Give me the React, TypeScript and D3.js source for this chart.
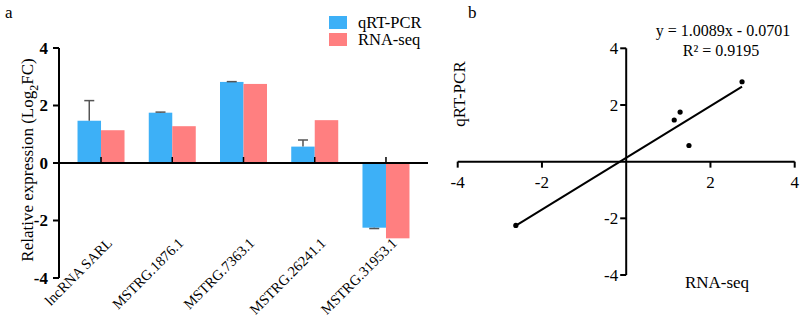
import React from "react";
import * as d3 from "d3";

const categories = ["lncRNA SARL", "MSTRG.1876.1", "MSTRG.7363.1", "MSTRG.26241.1", "MSTRG.31953.1"];
const seriesNames = ["qRT-PCR", "RNA-seq"];
const qrtValues = [1.47, 1.75, 2.82, 0.57, -2.25];
const qrtErrors = [0.7, 0.02, 0.01, 0.23, 0.03];
const rnaValues = [1.14, 1.28, 2.75, 1.49, -2.62];
const yTicksA = [-4, -2, 0, 2, 4];
const xTicksB = [-4, -2, 2, 4];
const yTicksB = [-4, -2, 2, 4];
const colors = ["#3DB0F7", "#FF7F80"];
const eqText = "y = 1.0089x - 0.0701";
const r2Text = "R² = 0.9195";

const FONT = "'Liberation Serif', 'Times New Roman', Times, serif";

export default function App() {
  // Panel a
  const yA = d3.scaleLinear().domain([-4, 4]).range([278, 48]);
  const xA = d3.scaleBand<string>().domain(categories).range([65.4, 421.6]).padding(0);
  const inner = d3.scaleBand<string>().domain(seriesNames).range([-23.5, 23.5]);
  const center = (c: string) => (xA(c) as number) + xA.bandwidth() / 2;
  const axisAX = 59;
  const zeroA = yA(0);

  // Panel b
  const xB = d3.scaleLinear().domain([-4, 4]).range([457.7, 794.7]);
  const yB = d3.scaleLinear().domain([-4, 4]).range([275, 48.3]);
  const pts = rnaValues.map((x, i) => ({ x, y: qrtValues[i] }));
  const mx = d3.mean(pts, (p) => p.x) as number;
  const my = d3.mean(pts, (p) => p.y) as number;
  const sxy = d3.sum(pts, (p) => (p.x - mx) * (p.y - my));
  const sxx = d3.sum(pts, (p) => (p.x - mx) ** 2);
  const slope = sxy / sxx;
  const icpt = my - slope * mx;
  const [xmin, xmax] = d3.extent(pts, (p) => p.x) as [number, number];
  const line = d3.line<[number, number]>().x((d) => xB(d[0])).y((d) => yB(d[1]));
  const fitPath = line([
    [xmin, slope * xmin + icpt],
    [xmax, slope * xmax + icpt],
  ]) as string;
  const axisBX = xB(0);
  const axisBY = yB(0);

  return (
    <svg width={800} height={319} style={{ position: "absolute", left: 0, top: 0, background: "#fff", fontFamily: FONT }}>
      <rect width={800} height={319} fill="#fff" />
      {/* Panel a */}
      <text x={5} y={18} fontSize={17}>a</text>
      {categories.map((c, i) => {
        const cx = center(c);
        const vals = [qrtValues[i], rnaValues[i]];
        return (
          <g key={c}>
            {vals.map((v, j) => {
              const x0 = cx + (inner(seriesNames[j]) as number);
              const y0 = Math.min(yA(v), zeroA);
              const h = Math.abs(yA(v) - zeroA);
              return <rect key={j} x={x0} y={y0} width={inner.bandwidth()} height={h} fill={colors[j]} />;
            })}
          </g>
        );
      })}
      {categories.map((c, i) => {
        const bx = center(c) + (inner(seriesNames[0]) as number) + inner.bandwidth() / 2;
        const v = qrtValues[i];
        const e = qrtErrors[i];
        const tip = v >= 0 ? v + e : v - e;
        return (
          <g key={"e" + c} stroke="#555" strokeWidth={1.5}>
            <line x1={bx} x2={bx} y1={yA(v)} y2={yA(tip)} />
            <line x1={bx - 5} x2={bx + 5} y1={yA(tip)} y2={yA(tip)} />
          </g>
        );
      })}
      {/* axes a */}
      <line x1={axisAX} x2={axisAX} y1={yA(4)} y2={yA(-4)} stroke="#000" strokeWidth={2} />
      <line x1={axisAX} x2={428} y1={zeroA} y2={zeroA} stroke="#000" strokeWidth={2} />
      {yTicksA.map((t) => (
        <g key={t}>
          <line x1={axisAX - 6} x2={axisAX} y1={yA(t)} y2={yA(t)} stroke="#000" strokeWidth={2} />
          <text x={axisAX - 11} y={yA(t)} dy="0.35em" textAnchor="end" fontWeight="bold" fontSize={17}>
            {t}
          </text>
        </g>
      ))}
      {categories.map((c) => (
        <g key={"t" + c}>
          <line x1={center(c)} x2={center(c)} y1={zeroA} y2={zeroA - 6} stroke="#000" strokeWidth={1.5} />
          <text
            transform={`translate(${center(c) + 12},${244}) rotate(-45)`}
            textAnchor="end"
            fontSize={14.5}
          >
            {c}
          </text>
        </g>
      ))}
      <text transform={`translate(33,160) rotate(-90)`} textAnchor="middle" fontSize={17}>
        Relative expression (Log
        <tspan dy={5} fontSize={12}>2</tspan>
        <tspan dy={-5}>FC)</tspan>
      </text>
      {/* legend */}
      {seriesNames.map((s, j) => (
        <g key={s}>
          <rect x={329} y={16 + j * 17} width={18} height={13} fill={colors[j]} />
          <text x={358} y={28 + j * 17} fontSize={16.5}>{s}</text>
        </g>
      ))}

      {/* Panel b */}
      <text x={468} y={18} fontSize={17}>b</text>
      <line x1={axisBX} x2={axisBX} y1={yB(4)} y2={yB(-4)} stroke="#000" strokeWidth={2} />
      <line x1={xB(-4)} x2={xB(4)} y1={axisBY} y2={axisBY} stroke="#000" strokeWidth={2} />
      {yTicksB.map((t) => (
        <g key={"yb" + t}>
          <line x1={axisBX - 6} x2={axisBX} y1={yB(t)} y2={yB(t)} stroke="#000" strokeWidth={2} />
          <text x={axisBX - 8} y={yB(t)} dy="0.35em" textAnchor="end" fontSize={17}>
            {t}
          </text>
        </g>
      ))}
      {xTicksB.map((t) => (
        <g key={"xb" + t}>
          <line x1={xB(t)} x2={xB(t)} y1={axisBY} y2={axisBY + 6} stroke="#000" strokeWidth={2} />
          <text x={xB(t)} y={axisBY + 26} textAnchor="middle" fontSize={17}>
            {t}
          </text>
        </g>
      ))}
      <path d={fitPath} stroke="#000" strokeWidth={2} fill="none" />
      {pts.map((p, i) => (
        <circle key={i} cx={xB(p.x)} cy={yB(p.y)} r={2.6} fill="#000" />
      ))}
      <text transform={`translate(465,94) rotate(-90)`} textAnchor="middle" fontSize={17}>
        qRT-PCR
      </text>
      <text x={717} y={288} textAnchor="middle" fontSize={17}>RNA-seq</text>
      <text x={723} y={36} textAnchor="middle" fontSize={16}>{eqText}</text>
      <text x={721} y={56} textAnchor="middle" fontSize={16}>{r2Text}</text>
    </svg>
  );
}
